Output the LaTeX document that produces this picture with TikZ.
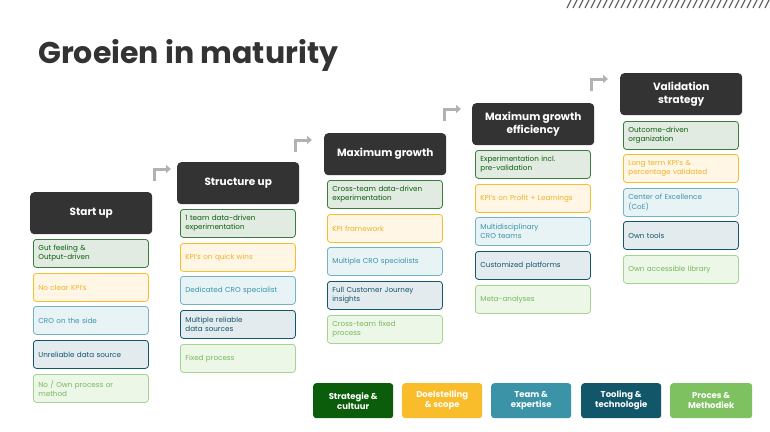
\documentclass[tikz,border=0pt]{standalone}
\usepackage{fontspec}
\setmainfont{Poppins}
\usetikzlibrary{arrows.meta}
\definecolor{cA}{HTML}{0B5D0B}\definecolor{fA}{HTML}{E1EBE1}\definecolor{bA}{HTML}{3A7D3A}
\definecolor{cB}{HTML}{F9BC2A}\definecolor{fB}{HTML}{FFF6E5}
\definecolor{cC}{HTML}{3B93A8}\definecolor{fC}{HTML}{E8F3F6}
\definecolor{cD}{HTML}{12566A}\definecolor{fD}{HTML}{E3EBEE}
\definecolor{cE}{HTML}{7DC160}\definecolor{fE}{HTML}{EDF7E8}
\definecolor{hdr}{HTML}{333333}
\begin{document}
\begin{tikzpicture}[x=1pt,y=-1pt,
 hd/.style={fill=hdr,rounded corners=4pt,text=white,font=\bfseries\fontsize{10.5}{12.5}\selectfont,minimum width=122pt,minimum height=42pt,align=center,inner sep=2pt},
 it/.style={rounded corners=3pt,line width=0.8pt,minimum width=115pt,minimum height=28pt,text width=105pt,align=left,font=\fontsize{7.2}{9.5}\selectfont,anchor=north west,inner sep=5pt},
 iA/.style={it,draw=bA,fill=fA,text=cA},
 iB/.style={it,draw=cB,fill=fB,text=cB!95!black},
 iC/.style={it,draw=cC!70,fill=fC,text=cC},
 iD/.style={it,draw=cD,fill=fD,text=cD},
 iE/.style={it,draw=cE!70,fill=fE,text=cE!95!black},
 lg/.style={rounded corners=3pt,text=white,font=\bfseries\fontsize{8.5}{10}\selectfont,minimum width=80pt,minimum height=35pt,align=center,anchor=north west,inner sep=1pt},
 ar/.style={draw=black!30,line width=3pt,-{Triangle[length=5pt,width=8pt]}}]
\useasboundingbox (0,0) rectangle (770,431);
\fill[white] (0,0) rectangle (770,431);
\foreach \i in {0,...,33} \draw[black!60,line width=1.3pt] (567+\i*6,8) -- (571+\i*6,0);
\node[anchor=west,font=\bfseries\fontsize{30}{34}\selectfont,text=hdr,inner sep=0] (title) at (38,55) {Groeien in maturity};
\foreach \n/\x/\y [count=\k] in {Start up/30/192,Structure up/177/162,Maximum growth/324/133,{Maximum growth\\efficiency}/472/103,{Validation\\strategy}/620/73}{
  \node[hd,anchor=north west] (h\k) at (\x,\y) {\n};
}
% column 1
\node[iA] (a1) at (33,239) {Gut feeling \&\\Output-driven};
\node[iB] (a2) at (33,273) {No clear KPI's};
\node[iC] (a3) at (33,306) {CRO on the side};
\node[iD] (a4) at (33,340) {Unreliable data source};
\node[iE] (a5) at (33,374) {No / Own process or\\method};
% column 2
\node[iA] (b1) at (180,209) {1 team data-driven\\experimentation};
\node[iB] (b2) at (180,243) {KPI's on quick wins};
\node[iC] (b3) at (180,276) {Dedicated CRO specialist};
\node[iD] (b4) at (180,310) {Multiple reliable\\data sources};
\node[iE] (b5) at (180,344) {Fixed process};
% column 3
\node[iA] (c1) at (327,180) {Cross-team data-driven\\experimentation};
\node[iB] (c2) at (327,214) {KPI framework};
\node[iC] (c3) at (327,247) {Multiple CRO specialists};
\node[iD] (c4) at (327,281) {Full Customer Journey\\insights};
\node[iE] (c5) at (327,315) {Cross-team fixed\\process};
% column 4
\node[iA] (d1) at (475,150) {Experimentation incl.\\pre-validation};
\node[iB] (d2) at (475,184) {KPI's on Profit + Learnings};
\node[iC] (d3) at (475,217) {Multidisciplinary\\CRO teams};
\node[iD] (d4) at (475,251) {Customized platforms};
\node[iE] (d5) at (475,285) {Meta-analyses};
% column 5
\node[iA] (e1) at (623,121) {Outcome-driven\\organization};
\node[iB] (e2) at (623,154) {Long term KPI's \&\\percentage validated};
\node[iC] (e3) at (623,188) {Center of Excellence\\(CoE)};
\node[iD] (e4) at (623,221) {Own tools};
\node[iE] (e5) at (623,255) {Own accessible library};
% arrows
\foreach \k/\x/\y in {2/154/181,3/295/152,4/444/121,5/591/91}{
  \coordinate (s\k) at (\x,\y);
  \draw[ar] (s\k) |- ++(17,-12);
}
% legend
\node[lg,fill=cA] (l1) at (313,383) {Strategie \&\\cultuur};
\node[lg,fill=cB] (l2) at (402,383) {Doelstelling\\\& scope};
\node[lg,fill=cC] (l3) at (491,383) {Team \&\\expertise};
\node[lg,fill=cD] (l4) at (581,383) {Tooling \&\\technologie};
\node[lg,fill=cE,minimum width=82pt] (l5) at (670,383) {Proces \&\\Methodiek};
\end{tikzpicture}
\end{document}
